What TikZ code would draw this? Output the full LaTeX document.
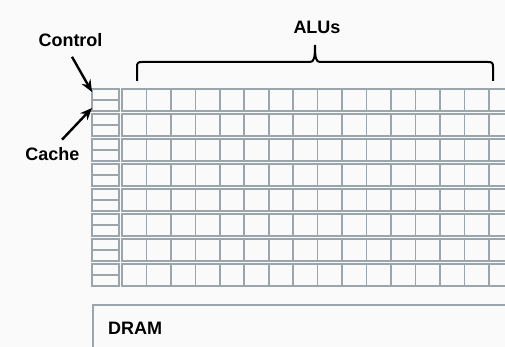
\documentclass[tikz,border=0pt]{standalone}
\usepackage{fontspec}
\setmainfont{Liberation Sans}
\usetikzlibrary{arrows.meta}
\definecolor{gridc}{HTML}{9AA6AC}
\definecolor{bgc}{HTML}{FAFAFA}
\begin{document}
\begin{tikzpicture}[x=1pt,y=-1pt,
  lbl/.style={font=\fontsize{18}{20}\selectfont\bfseries, inner sep=0pt, text=black},
  gridline/.style={draw=gridc, line width=1.6pt},
  sub/.style={draw=gridc, line width=1.6pt, minimum width=27pt, minimum height=11pt, inner sep=0pt, outer sep=0pt, anchor=north west},
  brk/.style={draw=black, line width=2pt},
  arr/.style={draw=black, line width=2.4pt, -{Stealth[length=12pt,width=10pt]}}]
\useasboundingbox (0,0) rectangle (505,347);
\fill[bgc] (0,0) rectangle (505,347);
\clip (0,0) rectangle (505,347);
% grid: cache/control column and ALU rows
\foreach \i in {0,...,7} {
  \pgfmathsetmacro\ty{89+25*\i}
  \node[sub] (ctl\i) at (92,\ty) {};
  \node[sub] (cch\i) at (92,\ty+11) {};
  \draw[gridline] (122,\ty) rectangle (520,\ty+22);
  \foreach \j in {1,...,15} {
    \draw[gridline] (122+24.45*\j,\ty) -- (122+24.45*\j,\ty+22);
  }
}
% DRAM
\node[draw=gridc, line width=1.6pt, minimum width=440pt, minimum height=60pt, inner sep=0pt, anchor=north west] (dram) at (92,304) {};
\node[lbl, anchor=west] (dramt) at (108,328) {DRAM};
% labels
\node[lbl] (ctrl) at (70.5,40) {Control};
\node[lbl] (cache) at (52.5,154) {Cache};
\node[lbl] (alus) at (317,27) {ALUs};
% bracket
\draw[brk] (137,81) -- (137,67) .. controls (137,63) and (138,62) .. (142,62) -- (310,62)
  .. controls (314,62) and (315,58) .. (315,45)
  .. controls (315,58) and (316,62) .. (320,62) -- (488,62)
  .. controls (492,62) and (493,63) .. (493,67) -- (493,81);
% arrows
\draw[arr] ([xshift=1.5pt,yshift=-10pt]ctrl.south) -- ([yshift=2.5pt]ctl0.west);
\draw[arr] ([xshift=9.5pt,yshift=7.5pt]cache.north) -- ([yshift=-2.5pt]cch0.west);
\end{tikzpicture}
\end{document}
